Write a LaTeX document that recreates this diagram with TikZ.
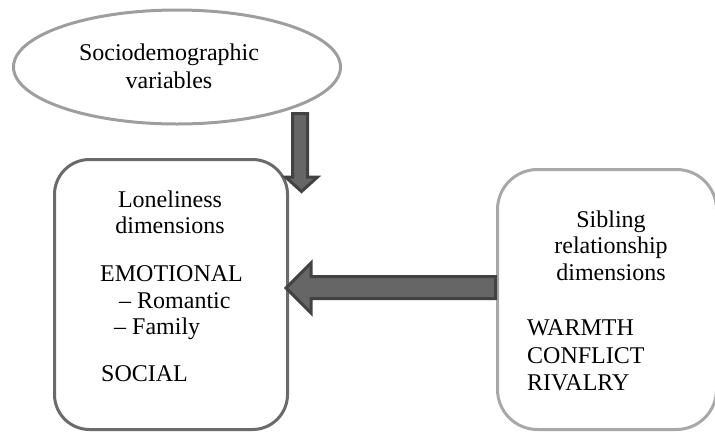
\documentclass[tikz,border=0pt]{standalone}
\usepackage{fontspec}
\setmainfont{Liberation Serif}
\usetikzlibrary{shapes.geometric}
\definecolor{ellgray}{HTML}{9E9E9E}
\definecolor{leftgray}{HTML}{6A6A6A}
\definecolor{rightgray}{HTML}{A8A8A8}
\definecolor{arrowfill}{HTML}{666666}
\definecolor{arrowedge}{HTML}{424242}
\begin{document}
\begin{tikzpicture}[x=1pt,y=-1pt,
  lbl/.style={font=\fontsize{24}{27}\selectfont, inner sep=0pt},
  boxshape/.style={line width=3pt, inner sep=0pt},
  blockarrow/.style={fill=arrowfill, draw=arrowedge, line width=3pt, line join=miter}]
\useasboundingbox (0,0) rectangle (715,432);
\clip (0,0) rectangle (715,432);
% ellipse
\node[ellipse, draw=ellgray, boxshape, minimum width=327pt, minimum height=114pt] (socio) at (177,67) {};
\node[lbl, anchor=base] (socio1) at (169,60) {Sociodemographic};
\node[lbl, anchor=base] (socio2) at (169,88) {variables};
% left box
\node[draw=leftgray, boxshape, rounded corners=35pt, minimum width=233pt, minimum height=270pt] (lonely) at (171,294.5) {};
\node[lbl, anchor=base] (l1) at (170,207) {Loneliness};
\node[lbl, anchor=base] (l2) at (170,233) {dimensions};
\node[lbl, anchor=base west] (l3) at (100,281) {EMOTIONAL};
\node[lbl, anchor=base west] (l4) at (115,308) {\,\textendash\ Romantic};
\node[lbl, anchor=base west] (l5) at (110,334) {\,\textendash\ Family};
\node[lbl, anchor=base west] (l6) at (101,381) {SOCIAL};
% right box
\node[draw=rightgray, boxshape, rounded corners=40pt, minimum width=219pt, minimum height=260pt] (sibling) at (607,299.5) {};
\node[lbl, anchor=base] (s1) at (611,227) {Sibling};
\node[lbl, anchor=base] (s2) at (611,253) {relationship};
\node[lbl, anchor=base] (s3) at (611,280) {dimensions};
\node[lbl, anchor=base west] (s4) at (527,335) {WARMTH};
\node[lbl, anchor=base west] (s5) at (527,363) {CONFLICT};
\node[lbl, anchor=base west] (s6) at (527,390) {RIVALRY};
% block arrows
\coordinate (dtop) at (300,113.5);
\coordinate (dtip) at (301.5,191.5);
\draw[blockarrow] ([xshift=-7.5pt]dtop) -- ([xshift=7.5pt]dtop) -- (307.5,177) -- (317.5,177) -- (dtip) -- (285.5,177) -- (292.5,177) -- cycle;
\coordinate (lstart) at (sibling.west);
\coordinate (ltip) at (286,288);
\draw[blockarrow] (495.5,276.5) -- (495.5,298.5) -- (311,298.5) -- (311,313) -- (ltip) -- (311,263) -- (311,276.5) -- cycle;
\end{tikzpicture}
\end{document}
